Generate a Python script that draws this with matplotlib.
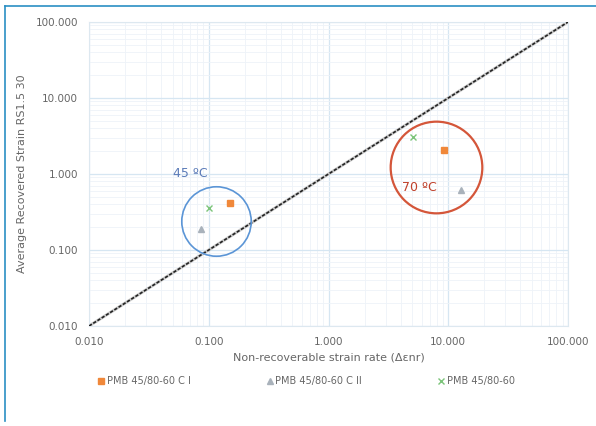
import matplotlib.pyplot as plt
from matplotlib.lines import Line2D
from matplotlib.ticker import FixedLocator, LogLocator, NullFormatter

# data
series_names = ["PMB 45/80-60 C I", "PMB 45/80-60 C II", "PMB 45/80-60"]
series_x = [[0.15, 9.3], [0.086, 12.8], [0.10, 5.1]]
series_y = [[0.42, 2.07], [0.19, 0.61], [0.36, 3.07]]
series_colors = ["#f0883a", "#a9b2bb", "#7cc47a"]
series_markers = ["s", "^", "x"]

ticks = [0.01, 0.1, 1, 10, 100]
tick_labels = ["0.010", "0.100", "1.000", "10.000", "100.000"]

groups = ["45 ºC", "70 ºC"]
group_x = [0.114, 7.9]
group_y = [0.241, 1.24]
group_colors = ["#5b95d6", "#d4563a"]

fig = plt.figure(figsize=(5.96, 4.26), dpi=100)
ax = fig.add_axes([89 / 596, 1 - 326 / 426, 479 / 596, 304 / 426])
ax.set_xscale("log")
ax.set_yscale("log")
ax.set_xlim(0.01, 100)
ax.set_ylim(0.01, 100)

ax.xaxis.set_major_locator(FixedLocator(ticks))
ax.yaxis.set_major_locator(FixedLocator(ticks))
ax.set_xticklabels(tick_labels)
ax.set_yticklabels(tick_labels)
ax.xaxis.set_minor_locator(LogLocator(base=10, subs=range(2, 10)))
ax.yaxis.set_minor_locator(LogLocator(base=10, subs=range(2, 10)))
ax.xaxis.set_minor_formatter(NullFormatter())
ax.yaxis.set_minor_formatter(NullFormatter())
ax.grid(which="major", color="#d6e6f2", lw=0.9)
ax.grid(which="minor", color="#eef3f8", lw=0.6)
ax.set_axisbelow(True)
ax.tick_params(which="both", length=0, labelsize=7.5, colors="#666666", pad=8)
for s in ax.spines.values():
    s.set_color("#dde8f0")

# 1:1 line
ax.plot([0.01, 100], [0.01, 100], color="#cccccc", lw=2.2, zorder=2)
ax.plot([0.01, 100], [0.01, 100], color="#222222", lw=1.2, ls=(0, (2, 1)), zorder=3)

for name, xs, ys, c, m in zip(series_names, series_x, series_y, series_colors, series_markers):
    ax.plot(xs, ys, ls="none", marker=m, color=c, ms=5, mew=1.0, label=name, zorder=4)

# temperature circles
ax.plot(group_x[0], group_y[0], marker="o", ms=50, mfc="none", mec=group_colors[0], mew=1.2, zorder=4)
ax.plot(group_x[1], group_y[1], marker="o", ms=66, mfc="none", mec=group_colors[1], mew=1.6, zorder=4)
ax.text(0.05, 0.9, groups[0], color="#5b7bb8", fontsize=9)
ax.text(4.1, 0.6, groups[1], color="#c0402a", fontsize=9)

ax.set_xlabel("Non-recoverable strain rate (Δεnr)", color="#666666", fontsize=8, labelpad=4)
ax.set_ylabel("Average Recovered Strain RS1.5 30", color="#666666", fontsize=8, labelpad=6)

handles = [Line2D([], [], ls="none", marker=m, color=c, ms=5) for c, m in zip(series_colors, series_markers)]
fig.legend(handles, series_names, loc="center", bbox_to_anchor=(0.5 + 8 / 596, 1 - 381 / 426), ncol=3,
           frameon=False, fontsize=7, labelcolor="#666666", handletextpad=0.2, columnspacing=7.7,
           handlelength=0.8)

# blue frame
fig.add_artist(Line2D([5 / 596, 1], [1 - 6 / 426, 1 - 6 / 426], color="#2a8fc4", lw=1.2))
fig.add_artist(Line2D([5 / 596, 5 / 596], [1 - 6 / 426, 1 - 421 / 426], color="#2a8fc4", lw=1.2))

fig.savefig("out.png", dpi=100)
